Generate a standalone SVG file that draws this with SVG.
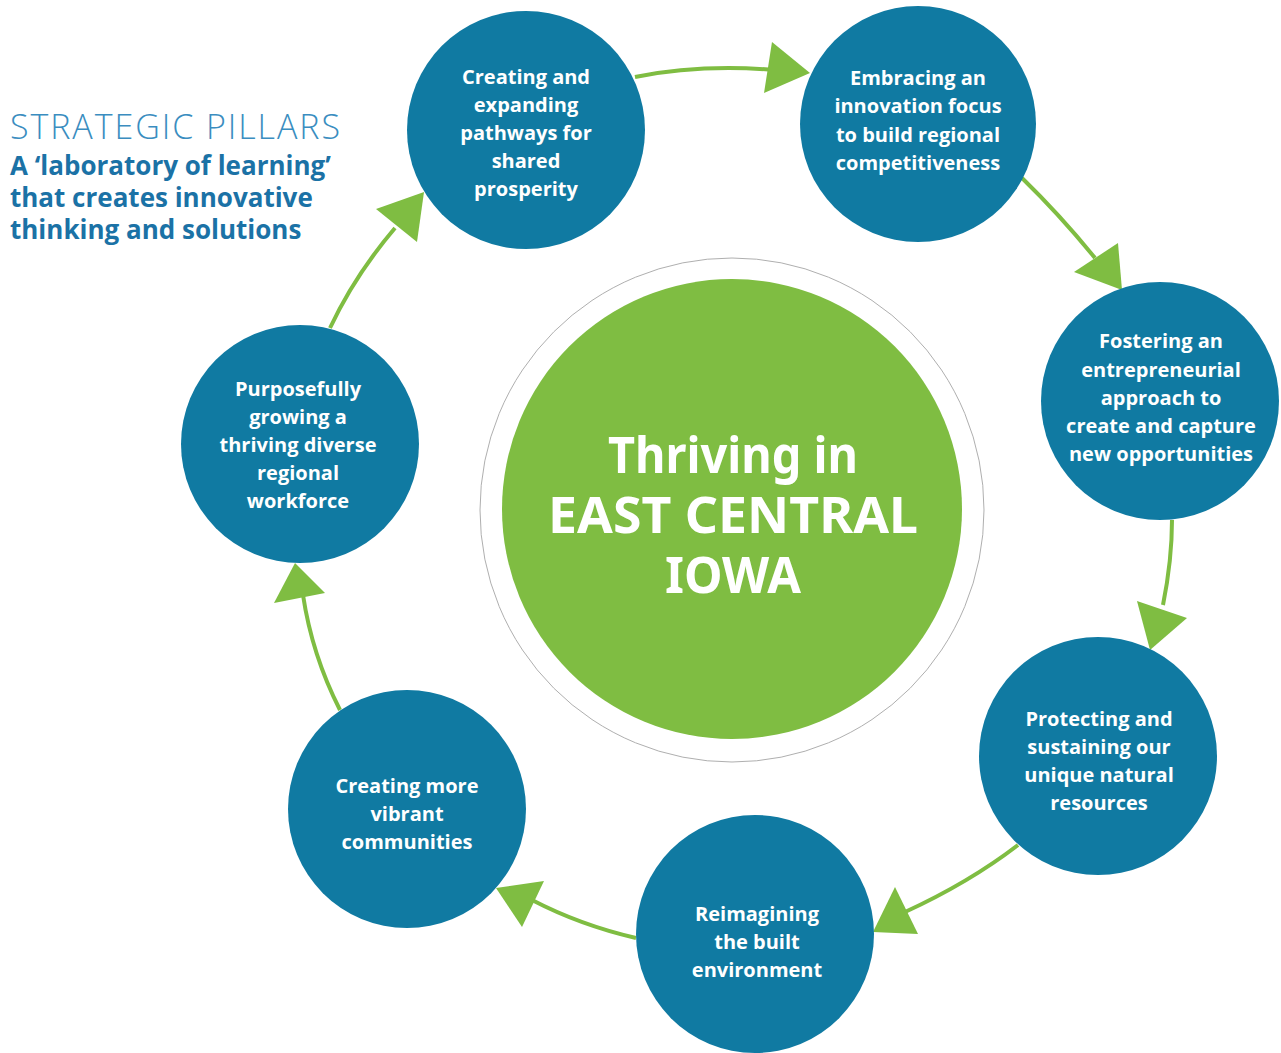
<svg xmlns="http://www.w3.org/2000/svg" width="1281" height="1053" viewBox="0 0 1281 1053">
<style>
.node{fill:#107AA2}
.nt{font-family:"Open Sans","Noto Sans",sans-serif;font-weight:bold;font-size:20px;fill:#fff;text-anchor:middle}
.ct{font-family:"Noto Sans","Open Sans",sans-serif;font-weight:bold;font-size:50px;fill:#fff;text-anchor:middle}
.conn{fill:none;stroke:#7FBD42;stroke-width:4}
.head{fill:#7FBD42}
.h1{font-family:"Open Sans","Noto Sans",sans-serif;font-weight:300;font-size:34px;fill:#3A8DC0}
.h2{font-family:"Open Sans","Noto Sans",sans-serif;font-weight:bold;font-size:26px;fill:#1B72A6}
</style>
<rect width="1281" height="1053" fill="#fff"/>
<g id="heading">
<text class="h1" x="10" y="139" textLength="330" lengthAdjust="spacing">STRATEGIC PILLARS</text>
<text class="h2" x="10" y="175">A ‘laboratory of learning’</text>
<text class="h2" x="10" y="207">that creates innovative</text>
<text class="h2" x="10" y="239">thinking and solutions</text>
</g>
<g id="connectors">
<path class="conn" d="M635,77 Q700,64 775,70"/>
<polygon class="head" points="772,42 810,73 764,93"/>
<path class="conn" d="M1022,178 Q1060,215 1095,258"/>
<polygon class="head" points="1118,243 1122,290 1074,272"/>
<path class="conn" d="M1172,520 Q1172,560 1163,605"/>
<polygon class="head" points="1137,601 1187,618 1150,650"/>
<path class="conn" d="M1018,845 Q970,882 905,912"/>
<polygon class="head" points="895,887 918,934 873,932"/>
<path class="conn" d="M636,938 Q580,925 532,900"/>
<polygon class="head" points="544,881 522,927 496,888"/>
<path class="conn" d="M340,710 Q312,655 303,595"/>
<polygon class="head" points="274,603 325,593 295,563"/>
<path class="conn" d="M330,328 Q355,275 395,228"/>
<polygon class="head" points="376,209 417,242 424,192"/>
</g>
<g id="center">
<circle cx="732" cy="510" r="252" fill="none" stroke="#AFAFAF" stroke-width="1"/>
<circle cx="732" cy="509" r="230" fill="#7FBD42"/>
<text class="ct" x="733" y="473" textLength="250" lengthAdjust="spacingAndGlyphs">Thriving in</text>
<text class="ct" x="733" y="533" textLength="370" lengthAdjust="spacingAndGlyphs">EAST CENTRAL</text>
<text class="ct" x="733" y="593" textLength="136" lengthAdjust="spacingAndGlyphs">IOWA</text>
</g>
<g id="node1">
<circle class="node" cx="526" cy="130" r="119"/>
<text class="nt" x="526" y="84">Creating and</text>
<text class="nt" x="526" y="112">expanding</text>
<text class="nt" x="526" y="140">pathways for</text>
<text class="nt" x="526" y="168">shared</text>
<text class="nt" x="526" y="196">prosperity</text>
</g>
<g id="node2">
<circle class="node" cx="918" cy="124" r="118"/>
<text class="nt" x="918" y="85">Embracing an</text>
<text class="nt" x="918" y="113">innovation focus</text>
<text class="nt" x="918" y="142">to build regional</text>
<text class="nt" x="918" y="170">competitiveness</text>
</g>
<g id="node3">
<circle class="node" cx="1160" cy="401" r="119"/>
<text class="nt" x="1161" y="348">Fostering an</text>
<text class="nt" x="1161" y="377">entrepreneurial</text>
<text class="nt" x="1161" y="405">approach to</text>
<text class="nt" x="1161" y="433">create and capture</text>
<text class="nt" x="1161" y="461">new opportunities</text>
</g>
<g id="node4">
<circle class="node" cx="1098" cy="756" r="119"/>
<text class="nt" x="1099" y="726">Protecting and</text>
<text class="nt" x="1099" y="754">sustaining our</text>
<text class="nt" x="1099" y="782">unique natural</text>
<text class="nt" x="1099" y="810">resources</text>
</g>
<g id="node5">
<circle class="node" cx="755" cy="934" r="119"/>
<text class="nt" x="757" y="921">Reimagining</text>
<text class="nt" x="757" y="949">the built</text>
<text class="nt" x="757" y="977">environment</text>
</g>
<g id="node6">
<circle class="node" cx="407" cy="809" r="119"/>
<text class="nt" x="407" y="793">Creating more</text>
<text class="nt" x="407" y="821">vibrant</text>
<text class="nt" x="407" y="849">communities</text>
</g>
<g id="node7">
<circle class="node" cx="300" cy="444" r="119"/>
<text class="nt" x="298" y="396">Purposefully</text>
<text class="nt" x="298" y="424">growing a</text>
<text class="nt" x="298" y="452">thriving diverse</text>
<text class="nt" x="298" y="480">regional</text>
<text class="nt" x="298" y="508">workforce</text>
</g>
</svg>
